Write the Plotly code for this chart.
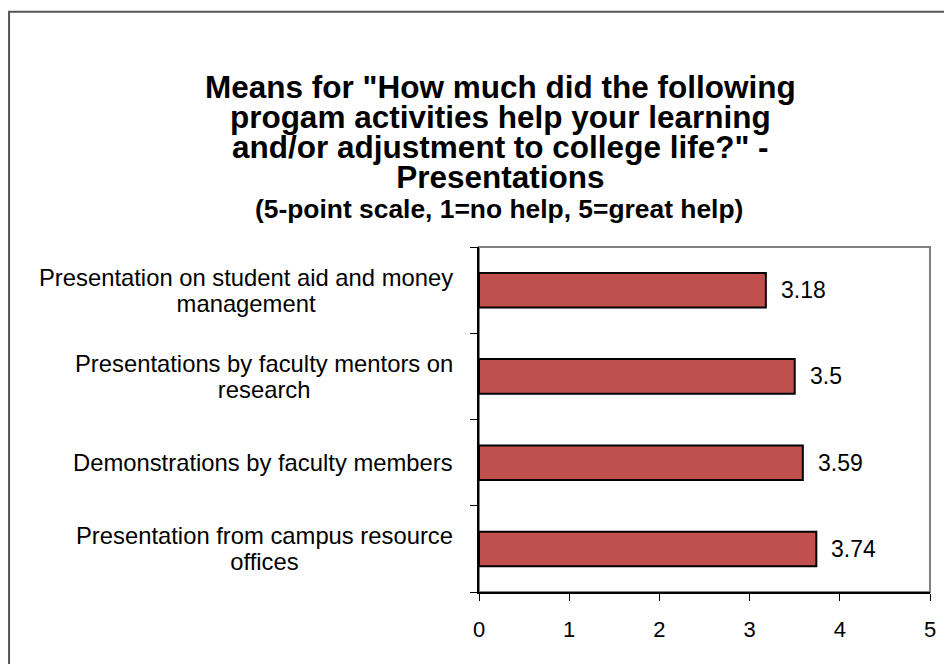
import plotly.graph_objects as go

# bottom to top, as plotly stacks categories
categories = [
    "Presentation from campus resource<br>offices",
    "Demonstrations by faculty members",
    "Presentations by faculty mentors on<br>research",
    "Presentation on student aid and money<br>management",
]
means = [3.74, 3.59, 3.5, 3.18]
x_ticks = [0, 1, 2, 3, 4, 5]

title_lines = [
    'Means for "How much did the following',
    "progam activities help your learning",
    'and/or adjustment to college life?" -',
    "Presentations",
]
subtitle = "(5-point scale, 1=no help, 5=great help)"

font = "Liberation Sans, Arial, sans-serif"


def tight(text, size):
    # bigger glyphs inside each line, line spacing stays tied to the base font size
    return "<br>".join('<span style="font-size:%spx">%s</span>' % (size, t) for t in text.split("<br>"))


fig = go.Figure(go.Bar(
    x=means, y=categories, orientation="h",
    marker=dict(color="#C0504D", line=dict(color="black", width=2)),
    hoverinfo="x",
))

annotations = []
for cat, v in zip(categories, means):
    annotations.append(dict(
        x=0, xref="paper", y=cat, yref="y", text=tight(cat, 23.8),
        xanchor="right", align="center", xshift=-24, showarrow=False,
        font=dict(family=font, size=20, color="black"),
    ))
    annotations.append(dict(
        x=v, xref="x", y=cat, yref="y", text=str(v),
        xanchor="left", xshift=13, showarrow=False,
        font=dict(family=font, size=23, color="black"),
    ))

annotations.append(dict(
    x=0, xref="paper", y=1, yref="paper", yanchor="middle", xanchor="center",
    xshift=21, yshift=115, showarrow=False, align="center",
    text=tight("<br>".join("<b>%s</b>" % t for t in title_lines), 31.5),
    font=dict(family=font, size=23, color="black"),
))
annotations.append(dict(
    x=0, xref="paper", y=1, yref="paper", yanchor="middle", xanchor="center",
    xshift=20, yshift=38, text="<b>%s</b>" % subtitle, showarrow=False,
    font=dict(family=font, size=26.4, color="black"),
))

fig.update_layout(
    width=944, height=656,
    margin=dict(l=471, r=22, t=239, b=72),
    paper_bgcolor="white", plot_bgcolor="white",
    bargap=0.6,
    showlegend=False,
    font=dict(family=font, color="black"),
    xaxis=dict(range=[0, 5], tickvals=x_ticks, showgrid=False, zeroline=False,
               showline=True, linecolor="black", linewidth=2,
               ticks="outside", ticklen=7, tickcolor="black", tickwidth=1,
               tickfont=dict(size=22), ticklabelstandoff=10, fixedrange=True),
    yaxis=dict(showticklabels=False, showgrid=False, zeroline=False,
               showline=True, linecolor="black", linewidth=2,
               ticks="outside", ticklen=7, tickcolor="black", tickson="boundaries",
               fixedrange=True),
    shapes=[
        # plot area frame (gray on top/right)
        dict(type="rect", xref="paper", yref="paper", x0=0, x1=1, y0=0, y1=1,
             line=dict(color="#808080", width=2), layer="below"),
        # chart frame
        dict(type="rect", xref="paper", yref="paper", x0=-1.042, x1=1.1, y0=-0.3, y1=1.682,
             line=dict(color="#555555", width=2)),
    ],
    annotations=annotations,
)

fig.write_html("out.html")
